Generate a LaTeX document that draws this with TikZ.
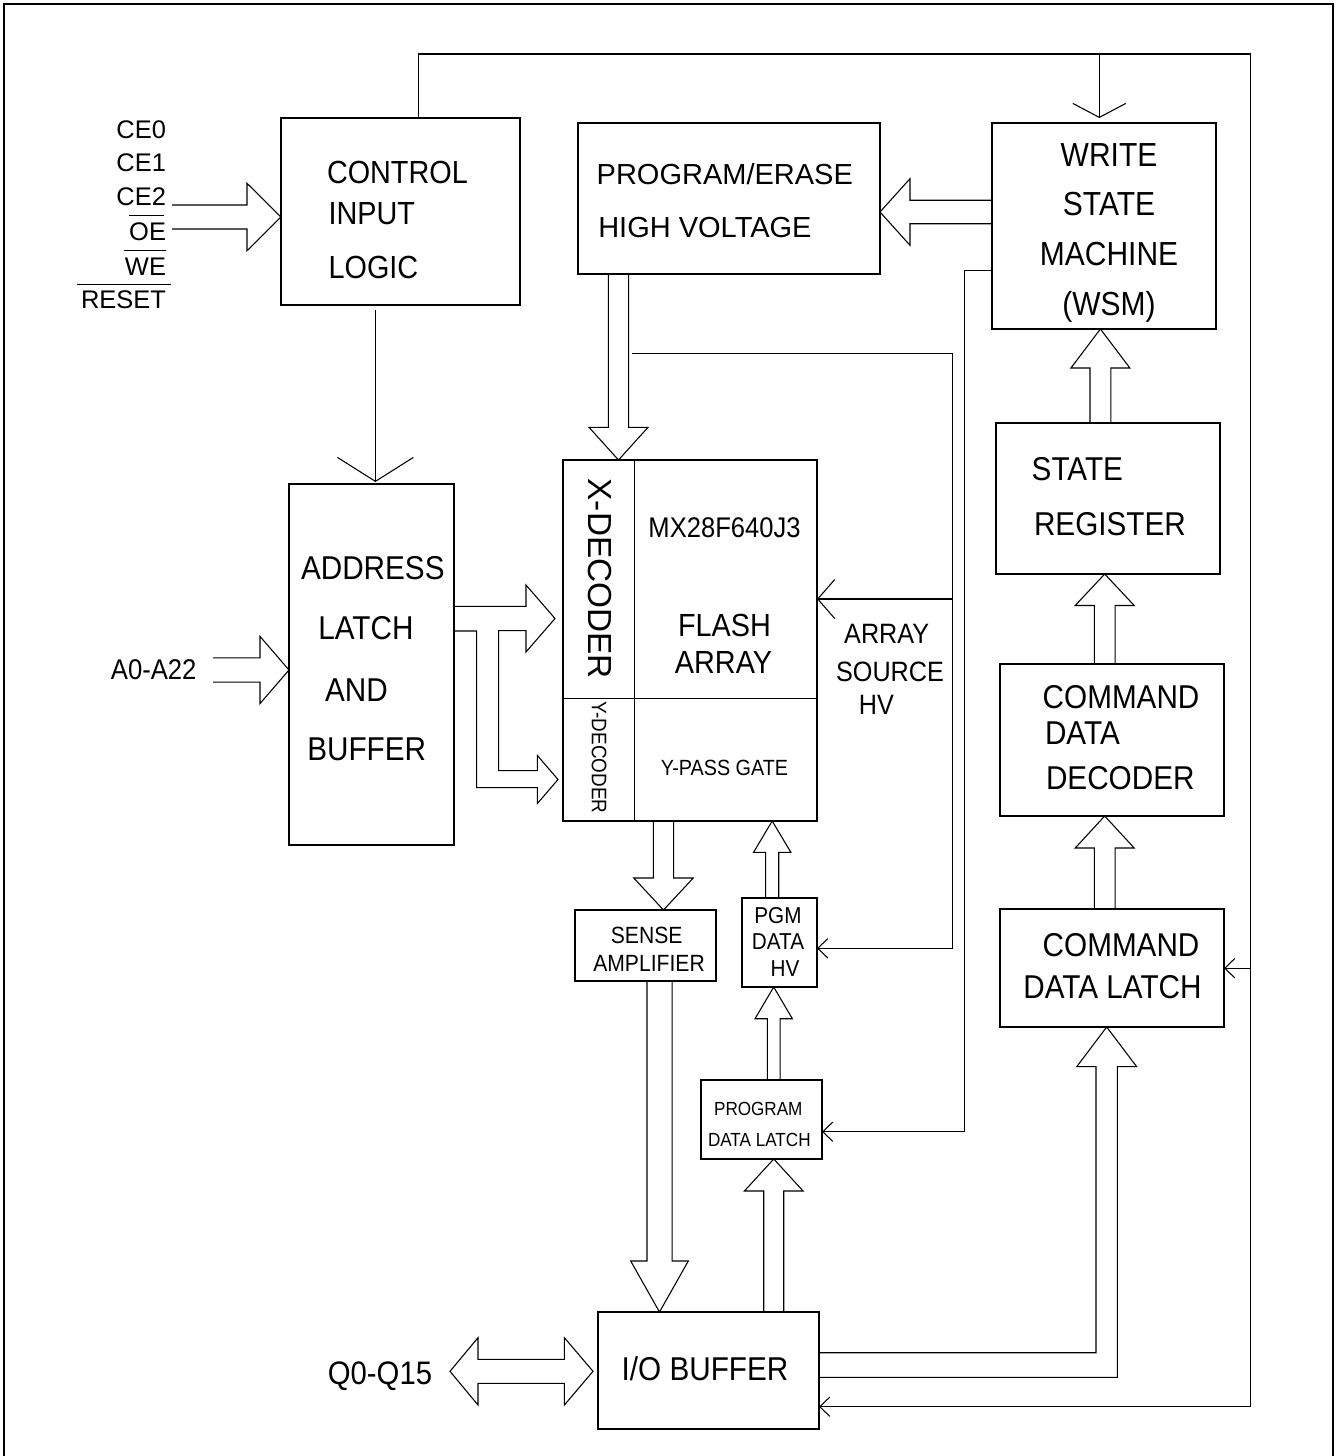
\documentclass[tikz,border=0pt]{standalone}
\usepackage{fontspec}
\setmainfont{Liberation Sans}
\newfontfamily\nar[FakeStretch=0.9]{Liberation Sans}
\usetikzlibrary{calc,arrows.meta,fit}
\newcommand\fsz[1]{\fontsize{#1}{#1}\selectfont}
\newcommand\barrow[5]{%
  \coordinate (ba-t) at (#1);
  \coordinate (ba-p) at (#2);
  \coordinate (ba-b) at ($(ba-p)!#5!(ba-t)$);
  \draw[ln] ($(ba-t)!#3!90:(ba-p)$) -- ($(ba-b)!#3!90:(ba-p)$) -- ($(ba-b)!#4!90:(ba-p)$) -- (ba-p) -- ($(ba-b)!#4!-90:(ba-p)$) -- ($(ba-b)!#3!-90:(ba-p)$) -- ($(ba-t)!#3!-90:(ba-p)$);
}
\tikzset{
  box/.style={draw, line width=0.9pt, rectangle, inner sep=0pt, outer sep=0pt},
  ln/.style={line width=0.8pt, line join=miter},
  txt/.style={inner sep=0pt, outer sep=0pt},
  vsm/.style={-{Straight Barb[length=7.5pt,width=14.5pt]}},
  vflash/.style={-{Straight Barb[length=12.75pt,width=29.25pt]}},
  vaddr/.style={-{Straight Barb[length=18pt,width=57pt]}},
  vwsm/.style={-{Straight Barb[length=10.5pt,width=39.75pt]}},
}
\begin{document}
\begin{tikzpicture}[x=0.75pt,y=-0.75pt]
\useasboundingbox (0,0) rectangle (1335,1456);
% frame
\draw[line width=1.3pt] (4,1460) -- (4,4) -- (1333,4) -- (1333,1460);

% boxes
\node[box, fit={(281,118) (520,305)}] (ctrl) {};
\node[box, fit={(578,123) (880,274)}] (pehv) {};
\node[box, fit={(992,123) (1216,329)}] (wsm) {};
\node[box, fit={(289,484) (454,845)}] (addr) {};
\node[box, fit={(563,460) (817,821)}] (flash) {};
\node[box, fit={(996,423) (1220,574)}] (sr) {};
\node[box, fit={(1000,664) (1224,816)}] (cdd) {};
\node[box, fit={(1000,909) (1224,1027)}] (cdl) {};
\node[box, fit={(575,910) (716,981)}] (sa) {};
\node[box, fit={(742,898) (817,987)}] (pgm) {};
\node[box, fit={(701,1080) (822,1159)}] (pdl) {};
\node[box, fit={(598,1312) (819,1429)}] (io) {};
\draw[line width=0.9pt] (flash.north -| 634.2,0) -- (flash.south -| 634.2,0);
\draw[line width=0.9pt] (flash.west |- 0,698.5) -- (flash.east |- 0,698.5);

% input labels
\node[txt, anchor=base east, font=\fsz{19.1}] (lCE0) at (166,138.4) {CE0};
\node[txt, anchor=base east, font=\fsz{19.1}] (lCE1) at (166,171.4) {CE1};
\node[txt, anchor=base east, font=\fsz{19.1}] (lCE2) at (166,205.8) {CE2};
\node[txt, anchor=base east, font=\fsz{19.1}] (lOE) at (166,240.8) {OE};
\node[txt, anchor=base east, font=\fsz{19.1}] (lWE) at (166,275.8) {WE};
\node[txt, anchor=base east, font=\fsz{19.1}] (lRESET) at (166,308.4) {RESET};
\draw[ln] ($(lOE.north west)+(0,-7.5)$) -- ($(lOE.north east)+(-2,-7.5)$);
\draw[ln] ($(lWE.north west)+(-1,-7.5)$) -- ($(lWE.north east)+(0,-7.5)$);
\draw[ln] ($(lRESET.north west)+(-4,-6)$) -- ($(lRESET.north east)+(5,-6)$);
\node[txt, anchor=base, font=\nar\fsz{21.4}] (lA) at (153.7,679.8) {A0-A22};
\node[txt, anchor=base, font=\nar\fsz{24.4}] (lQ) at (380,1384.6) {Q0-Q15};

% box texts
\node[txt, anchor=base west, font=\nar\fsz{24}] (tc1) at (327,183.2) {CONTROL};
\node[txt, anchor=base west, font=\nar\fsz{24}] (tc2) at (328.6,224.8) {INPUT};
\node[txt, anchor=base west, font=\nar\fsz{24}] (tc3) at (328.6,278.2) {LOGIC};
\node[txt, anchor=base west, font=\fsz{21.75}] (tp1) at (596.7,184.4) {PROGRAM/ERASE};
\node[txt, anchor=base west, font=\fsz{21.75}] (tp2) at (598.3,237.1) {HIGH VOLTAGE};
\node[txt, anchor=base, font=\nar\fsz{25}] (tw1) at (1109,166) {WRITE};
\node[txt, anchor=base, font=\nar\fsz{25}] (tw2) at (1109,215.3) {STATE};
\node[txt, anchor=base, font=\nar\fsz{25}] (tw3) at (1109,265.3) {MACHINE};
\node[txt, anchor=base, font=\nar\fsz{25}] (tw4) at (1109,315.3) {(WSM)};
\node[txt, anchor=base west, font=\nar\fsz{24.75}] (ta1) at (301,579.7) {ADDRESS};
\node[txt, anchor=base west, font=\nar\fsz{24.75}] (ta2) at (318.3,639.7) {LATCH};
\node[txt, anchor=base west, font=\nar\fsz{24.75}] (ta3) at (325,701.1) {AND};
\node[txt, anchor=base west, font=\nar\fsz{24.75}] (ta4) at (307.3,760) {BUFFER};
\node[txt, rotate=-90, font=\fsz{25}] (tx) at (599.8,578.7) {X-DECODER};
\node[txt, rotate=-90, font=\nar\fsz{15.75}] (ty) at (599,757.6) {Y-DECODER};
\node[txt, anchor=base, font=\nar\fsz{21.3}] (tf0) at (724.5,537.1) {MX28F640J3};
\node[txt, anchor=base, font=\nar\fsz{24}] (tf1) at (724.5,636.5) {FLASH};
\node[txt, anchor=base, font=\nar\fsz{24}] (tf2) at (723.5,673.5) {ARRAY};
\node[txt, anchor=base, font=\nar\fsz{16.5}] (tf3) at (724.5,775.7) {Y-PASS GATE};
\node[txt, anchor=base, font=\nar\fsz{21}] (th1) at (886.7,643.6) {ARRAY};
\node[txt, anchor=base, font=\nar\fsz{21}] (th2) at (890,681.4) {SOURCE};
\node[txt, anchor=base, font=\nar\fsz{21}] (th3) at (876.4,714.8) {HV};
\node[txt, anchor=base west, font=\nar\fsz{24.75}] (ts1) at (1031.7,480.4) {STATE};
\node[txt, anchor=base west, font=\nar\fsz{24.75}] (ts2) at (1034,535.1) {REGISTER};
\node[txt, anchor=base west, font=\nar\fsz{24.75}] (td1) at (1042.7,708.5) {COMMAND};
\node[txt, anchor=base west, font=\nar\fsz{24.75}] (td2) at (1045,744.3) {DATA};
\node[txt, anchor=base west, font=\nar\fsz{24.75}] (td3) at (1046,789.3) {DECODER};
\node[txt, anchor=base west, font=\nar\fsz{24.75}] (tl1) at (1042.7,956.8) {COMMAND};
\node[txt, anchor=base west, font=\nar\fsz{24.75}] (tl2) at (1023.3,998.8) {DATA LATCH};
\node[txt, anchor=base, font=\nar\fsz{17.6}] (tsa1) at (646.7,943.4) {SENSE};
\node[txt, anchor=base, font=\nar\fsz{17.6}] (tsa2) at (649,971.7) {AMPLIFIER};
\node[txt, anchor=base, font=\nar\fsz{17.25}] (tg1) at (778,923.2) {PGM};
\node[txt, anchor=base, font=\nar\fsz{17.25}] (tg2) at (778,949.9) {DATA};
\node[txt, anchor=base, font=\nar\fsz{17.25}] (tg3) at (785,976.2) {HV};
\node[txt, anchor=base, font=\nar\fsz{14.25}] (tq1) at (758.3,1115.1) {PROGRAM};
\node[txt, anchor=base, font=\nar\fsz{14.25}] (tq2) at (759.3,1146.8) {DATA LATCH};
\node[txt, anchor=base, font=\nar\fsz{24.75}] (tio) at (705,1380.1) {I/O BUFFER};

% coordinates for free ends
\coordinate (cein) at (172,217);
\coordinate (ain) at (213,670);

% block arrows
\barrow{cein}{ctrl.west |- 0,217}{9pt}{25.3pt}{25.5pt}
\barrow{ain}{addr.west |- 0,670}{9.15pt}{25.2pt}{21.75pt}
\barrow{pehv.south -| 618.5,0}{flash.north -| 618.5,0}{7.65pt}{22.1pt}{24.5pt}
\barrow{wsm.west |- 0,212}{pehv.east |- 0,212}{8.8pt}{25pt}{22.5pt}
\barrow{sr.north -| 1100.4,0}{wsm.south -| 1100.4,0}{7.8pt}{22.1pt}{29.25pt}
\barrow{cdd.north -| 1104.7,0}{sr.south -| 1104.7,0}{7.8pt}{22.1pt}{23.6pt}
\barrow{cdl.north -| 1104.7,0}{cdd.south -| 1104.7,0}{7.8pt}{22.1pt}{24pt}
\barrow{flash.south -| 663.5,0}{sa.north -| 663.5,0}{7.65pt}{22.3pt}{24pt}
\barrow{pgm.north -| 772.2,0}{flash.south -| 772.2,0}{4.9pt}{14pt}{23.5pt}
\barrow{pdl.north -| 773.7,0}{pgm.south -| 773.7,0}{4.8pt}{14pt}{23.8pt}
\barrow{io.north -| 773.75,0}{pdl.south -| 773.75,0}{7.5pt}{22pt}{24pt}
\barrow{sa.south -| 659.5,0}{io.north -| 659.5,0}{9.4pt}{21.6pt}{38.25pt}

% address bus split
\draw[ln] (addr.east |- 0,606.4) -- (526,606.4) -- (526,585) -- ($(flash.west |- 0,618.5)+(-8,0)$) -- (526,652) -- (526,630.7) -- (498.7,630.7) -- (498.7,770.7) -- (537.3,770.7) -- (537.3,755.4) -- ($(flash.west |- 0,779.5)+(-5,0)$) -- (537.3,803.6) -- (537.3,787.7) -- (476.7,787.7) -- (476.7,631) -- (addr.east |- 0,631);

% I/O -> command data latch
\draw[ln] (io.east |- 0,1352.7) -- (1096,1352.7) -- (1096,1066.7) -- (1076.7,1066.7) -- (cdl.south -| 1106.7,0) -- (1136.7,1066.7) -- (1117.3,1066.7) -- (1117.3,1377.3) -- (io.east |- 0,1377.3);

% Q0-Q15 double arrow
\draw[ln] (478,1359.3) -- (564.4,1359.3) -- (564.4,1337.7) -- ($(io.west |- 0,1371.3)+(-5,0)$) -- (564.4,1405) -- (564.4,1383.3) -- (478,1383.3) -- (478,1405) -- (450,1371.3) -- (478,1337.7) -- cycle;

% thin connectors
\draw[ln, vsm] (ctrl.north -| 418.2,0) -- (418.2,54) -- (1250.5,54) -- (1250.5,1406.7) -- (io.east |- 0,1406.7);
\draw[ln, vwsm] (1099.3,54) -- ($(wsm.north -| 1099.3,0)+(0,-5)$);
\draw[ln, vsm] (1250.5,968.2) -- (cdl.east |- 0,968.2);
\draw[ln, vaddr] ($(ctrl.south -| 375.4,0)+(0,5)$) -- ($(addr.north -| 375.4,0)+(0,-2)$);
\draw[ln, vsm] (wsm.west |- 0,270.7) -- (964.3,270.7) -- (964.3,1131.7) -- (pdl.east |- 0,1131.7);
\draw[ln, vsm] (631.5,353.4) -- (952.5,353.4) -- (952.5,948.3) -- (pgm.east |- 0,948.3);
\draw[ln, vflash] (952.5,599) -- (flash.east |- 0,599);
\end{tikzpicture}
\end{document}
